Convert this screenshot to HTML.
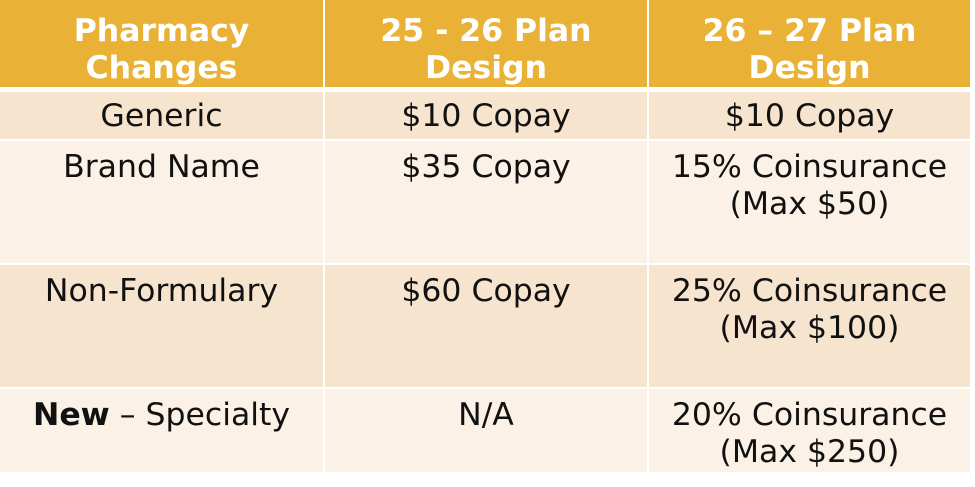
<!DOCTYPE html><html><head><style>
body{margin:0;width:975px;height:487px;background:#fff;position:relative;font-family:"DejaVu Sans","Liberation Sans",sans-serif;overflow:hidden}
.c{position:absolute;text-align:center;font-size:31.5px;color:#111;line-height:37px;box-sizing:border-box;white-space:nowrap}
.h{background:#E9B237;color:#fff;font-weight:bold;padding-top:13px}
.d{background:#F6E4CF}
.l{background:#FBF1E6}
</style></head><body>
<div class="c h" style="left:0;top:0;width:323px;height:87px">Pharmacy<br>Changes</div>
<div class="c h" style="left:325px;top:0;width:322px;height:87px">25 - 26 Plan<br>Design</div>
<div class="c h" style="left:649px;top:0;width:321px;height:87px">26 – 27 Plan<br>Design</div>

<div class="c d" style="left:0;top:92px;width:323px;height:47px;padding-top:6px">Generic</div>
<div class="c d" style="left:325px;top:92px;width:322px;height:47px;padding-top:6px">$10 Copay</div>
<div class="c d" style="left:649px;top:92px;width:321px;height:47px;padding-top:6px">$10 Copay</div>

<div class="c l" style="left:0;top:141px;width:323px;height:122px;padding-top:8px">Brand Name</div>
<div class="c l" style="left:325px;top:141px;width:322px;height:122px;padding-top:8px">$35 Copay</div>
<div class="c l" style="left:649px;top:141px;width:321px;height:122px;padding-top:8px">15% Coinsurance<br>(Max $50)</div>

<div class="c d" style="left:0;top:265px;width:323px;height:122px;padding-top:8px">Non-Formulary</div>
<div class="c d" style="left:325px;top:265px;width:322px;height:122px;padding-top:8px">$60 Copay</div>
<div class="c d" style="left:649px;top:265px;width:321px;height:122px;padding-top:8px">25% Coinsurance<br>(Max $100)</div>

<div class="c l" style="left:0;top:389px;width:323px;height:83px;padding-top:8px"><b>New</b> – Specialty</div>
<div class="c l" style="left:325px;top:389px;width:322px;height:83px;padding-top:8px">N/A</div>
<div class="c l" style="left:649px;top:389px;width:321px;height:83px;padding-top:8px">20% Coinsurance<br>(Max $250)</div>
</body></html>
